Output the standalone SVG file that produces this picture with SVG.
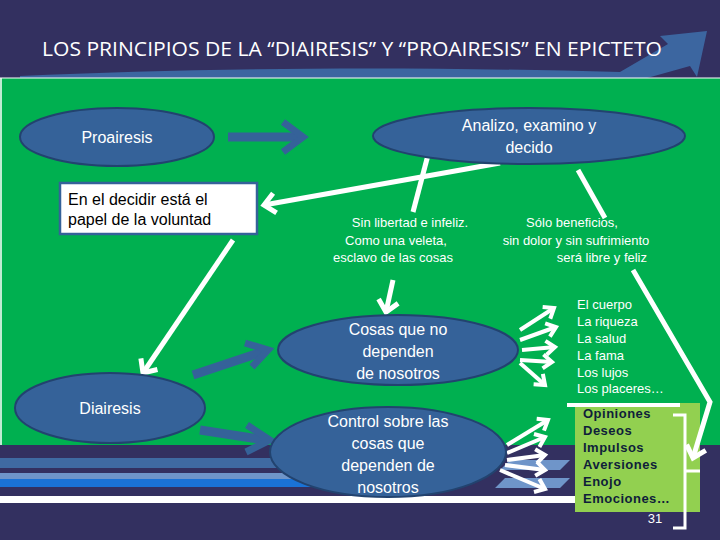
<svg xmlns="http://www.w3.org/2000/svg" width="720" height="540" viewBox="0 0 720 540">
<defs>
<style>
.el{fill:#356299;stroke:#22436f;stroke-width:2}
.nt{font-family:"Liberation Sans",Arial,sans-serif;font-size:16px;fill:#fff;text-anchor:middle}
.th{font-family:"Liberation Sans",Arial,sans-serif;font-size:13px;fill:#fff}
.bl{font-family:"Liberation Sans",Arial,sans-serif;font-size:13px;font-weight:bold;fill:#0f1e3a;letter-spacing:0.5px}
.wa{stroke:#fff;stroke-width:5;fill:none;marker-end:url(#wh)}
.wl{stroke:#fff;stroke-width:5;fill:none}
.fa{stroke:#fff;stroke-width:4;fill:none;marker-end:url(#wh2)}
.ba{stroke:#356299;stroke-width:9;fill:none}
</style>
<marker id="wh" markerWidth="20" markerHeight="24" refX="13" refY="12" orient="auto" markerUnits="userSpaceOnUse"><path d="M2,2 L13,12 L2,22" fill="none" stroke="#fff" stroke-width="5"/></marker>
<marker id="wh2" markerWidth="16" markerHeight="18" refX="11" refY="9" orient="auto" markerUnits="userSpaceOnUse"><path d="M2,2 L11,9 L2,16" fill="none" stroke="#fff" stroke-width="4"/></marker>
</defs>
<rect width="720" height="540" fill="#333060"/>
<path d="M20,76 C200,68 400,66 620,72 L668,44 L660,36 L707,31 L697,77 L690,66 L640,80 L20,80 Z" fill="#3c66a0"/>
<text x="42" y="56" font-family="'Open Sans',sans-serif" font-size="20" fill="#fff" textLength="620" lengthAdjust="spacingAndGlyphs">LOS PRINCIPIOS DE LA “DIAIRESIS” Y “PROAIRESIS” EN EPICTETO</text>
<rect x="0" y="78" width="720" height="367" fill="#00b050"/>
<line x1="0" y1="78" x2="720" y2="78" stroke="#fff" stroke-width="1"/>
<line x1="1" y1="78" x2="1" y2="445" stroke="#fff" stroke-width="1.5"/>
<rect x="0" y="458" width="460" height="10" fill="#3f6aa2"/>
<rect x="0" y="473" width="460" height="6" fill="#6f95c9"/>
<rect x="0" y="479" width="460" height="8" fill="#1a72d6"/>
<rect x="0" y="496" width="575" height="7" fill="#fff"/>
<path d="M510,460 L570,460 L560,470 L500,470 Z M505,478 L570,478 L560,488 L495,488 Z" fill="#6f95c9"/>
<rect x="575" y="403" width="125" height="109" fill="#92d050"/><rect x="567" y="403" width="113" height="4" fill="#fff"/>
<g id="connectors">
<path class="ba" d="M228,137 H300"/><path d="M283,122 L303,137 L283,152" fill="none" stroke="#356299" stroke-width="7"/>
<path class="ba" d="M193,375 L262,352"/><path d="M245,343 L268,350 L252,367" fill="none" stroke="#356299" stroke-width="7"/>
<path class="ba" d="M200,430 L265,440"/><path d="M247,425 L270,440 L246,452" fill="none" stroke="#356299" stroke-width="7"/>
<path class="wa" d="M500,163 L264,205"/>
<path class="wl" d="M428,155 L413,212"/>
<path class="wa" d="M233,240 L143,373"/>
<path class="wa" d="M393,280 L386,312"/>
<path class="wl" d="M578,170 L605,218"/>
<path class="wa" d="M633,270 L710,402 L693,458"/>
<path class="fa" d="M520,330 L554,308"/><path class="fa" d="M520,340 L556,327"/><path class="fa" d="M522,350 L555,347"/><path class="fa" d="M520,360 L552,362"/><path class="fa" d="M520,363 L545,385"/>
<path class="fa" d="M507,445 L548,420"/><path class="fa" d="M507,453 L545,437"/><path class="fa" d="M507,460 L545,455"/><path class="fa" d="M505,465 L545,470"/><path class="fa" d="M500,470 L545,489"/>
<path d="M673,415 H685 V528 H673 M685,471 H700" fill="none" stroke="#fff" stroke-width="3"/>
</g>
<g id="proairesis"><ellipse class="el" cx="117" cy="137" rx="97" ry="29"/><text class="nt" x="117" y="143">Proairesis</text></g>
<g id="analizo"><ellipse class="el" cx="529" cy="136" rx="156" ry="28"/><text class="nt" x="529" y="131">Analizo, examino y</text><text class="nt" x="529" y="153">decido</text></g>
<g id="decidir"><rect x="60" y="183" width="197" height="51" fill="#fff" stroke="#356299" stroke-width="2.5"/><text class="nt" x="68" y="205" style="text-anchor:start;fill:#000">En el decidir está el</text><text class="nt" x="68" y="225" style="text-anchor:start;fill:#000">papel de la voluntad</text></g>
<g id="sinlibertad"><text class="th" x="410" y="227" text-anchor="middle">Sin libertad e infeliz.</text><text class="th" x="396" y="245" text-anchor="middle">Como una veleta,</text><text class="th" x="393" y="262" text-anchor="middle">esclavo de las cosas</text></g>
<g id="solo"><text class="th" x="572" y="227" text-anchor="middle">Sólo beneficios,</text><text class="th" x="576" y="245" text-anchor="middle">sin dolor y sin sufrimiento</text><text class="th" x="647" y="262" text-anchor="end">será libre y feliz</text></g>
<g id="cosas"><ellipse class="el" cx="398" cy="350" rx="120" ry="35"/><text class="nt" x="398" y="335">Cosas que no</text><text class="nt" x="398" y="357">dependen</text><text class="nt" x="398" y="379">de nosotros</text></g>
<g id="diairesis"><ellipse class="el" cx="110" cy="408" rx="95" ry="35"/><text class="nt" x="110" y="414">Diairesis</text></g>
<g id="control"><ellipse class="el" cx="388" cy="452" rx="118" ry="45"/><text class="nt" x="388" y="427">Control sobre las</text><text class="nt" x="388" y="449">cosas que</text><text class="nt" x="388" y="471">dependen de</text><text class="nt" x="388" y="493">nosotros</text></g>
<g id="lista"><text class="th" x="577" y="309">El cuerpo</text><text class="th" x="577" y="326">La  riqueza</text><text class="th" x="577" y="343">La salud</text><text class="th" x="577" y="360">La fama</text><text class="th" x="577" y="377">Los lujos</text><text class="th" x="577" y="393">Los placeres…</text></g>
<g id="pasiones">
<text class="bl" x="583" y="418">Opiniones</text><text class="bl" x="583" y="435">Deseos</text><text class="bl" x="583" y="452">Impulsos</text><text class="bl" x="583" y="469">Aversiones</text><text class="bl" x="583" y="486">Enojo</text><text class="bl" x="583" y="503">Emociones…</text></g>
<text class="th" x="655" y="523" text-anchor="middle">31</text>
</svg>
